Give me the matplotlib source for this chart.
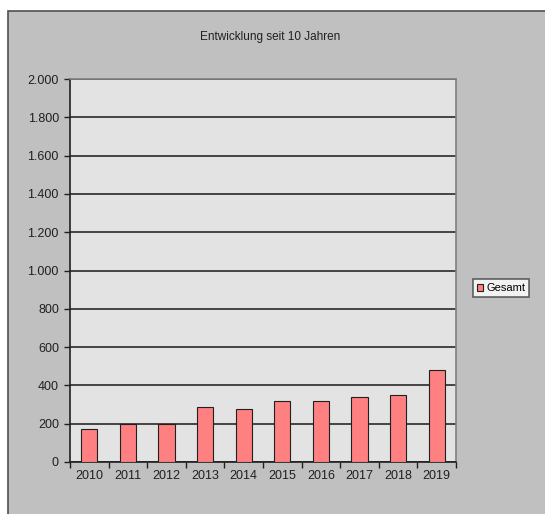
import matplotlib
matplotlib.use("Agg")
import matplotlib.pyplot as plt
from matplotlib.patches import Rectangle
from matplotlib.ticker import FuncFormatter, FixedLocator
import numpy as np

plt.rcParams["font.family"] = ["Liberation Sans", "DejaVu Sans"]

years = ["2010", "2011", "2012", "2013", "2014", "2015", "2016", "2017", "2018", "2019"]
gesamt = [172, 197, 197, 288, 276, 318, 318, 340, 350, 478]
yticks = [0, 200, 400, 600, 800, 1000, 1200, 1400, 1600, 1800, 2000]
title = "Entwicklung seit 10 Jahren"
series_name = "Gesamt"

W, H = 545, 514
fig = plt.figure(figsize=(W/100, H/100), dpi=100)
fig.patch.set_facecolor("white")

# chart area
fig.patches.append(Rectangle((8/W, -0.01), 1.0, (H-11)/H + 0.01, transform=fig.transFigure,
                             facecolor="#C0C0C0", edgecolor="#505050", linewidth=1.2, zorder=-10))

ax = fig.add_axes([70/W, (H-462)/H, (456-70)/W, (462-79)/H])
ax.set_zorder(2)
ax.set_facecolor("#E3E3E3")
x = np.arange(len(years))
ax.bar(x, gesamt, width=0.42, color="#FF8080", edgecolor="#202020", linewidth=0.8, zorder=3,
       label=series_name)
ax.set_xlim(-0.5, len(years)-0.5)
ax.set_ylim(0, 2000)
ax.set_yticks(yticks)
ax.yaxis.set_major_formatter(FuncFormatter(lambda v, p: f"{int(v):,}".replace(",", ".")))
ax.yaxis.grid(True, color="#1a1a1a", linewidth=1.1, zorder=1)
ax.set_axisbelow(True)
ax.set_xticks(x)
ax.set_xticklabels(years)
ax.xaxis.set_minor_locator(FixedLocator(np.arange(-0.5, len(years), 1.0)))
ax.tick_params(axis="x", which="major", length=0, pad=6, labelsize=9, colors="#202020")
ax.tick_params(axis="x", which="minor", length=4, width=1, color="#202020", direction="out")
ax.tick_params(axis="y", length=4, width=1, color="#202020", labelsize=9, labelcolor="#202020", pad=4)
for s in ["left", "bottom"]:
    ax.spines[s].set_color("#202020")
    ax.spines[s].set_linewidth(1.2)
for s in ["top", "right"]:
    ax.spines[s].set_color("#808080")
    ax.spines[s].set_linewidth(1.2)

fig.text(270/W, 1 - 37/H, title, ha="center", va="center", fontsize=8.5, color="#202020")

leg = fig.legend(loc="center", bbox_to_anchor=(501/W, 1 - 288/H), fontsize=8, frameon=True,
                 fancybox=False, edgecolor="#404040", facecolor="white", handlelength=0.6,
                 handleheight=0.6, handletextpad=0.3, borderpad=0.35, borderaxespad=0)
leg.get_frame().set_linewidth(1.2)

fig.savefig("out.png", dpi=100, facecolor=fig.get_facecolor())
